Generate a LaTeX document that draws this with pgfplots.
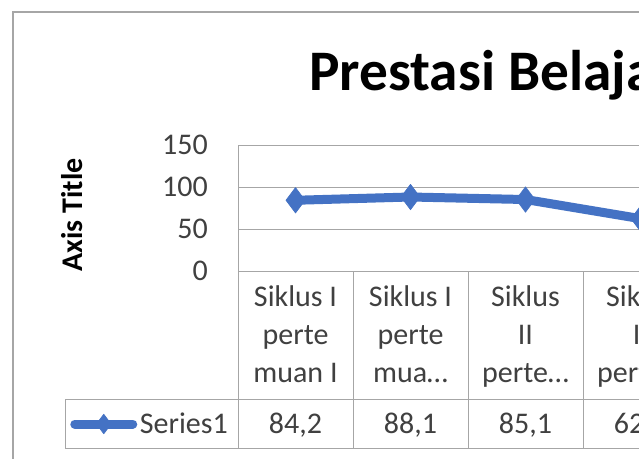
\documentclass[border=0pt]{standalone}
\usepackage{pgfplots}
\usepackage{pgfplotstable}
\pgfplotsset{compat=1.18}
\usepackage{fontspec}
\setmainfont{Carlito}
\definecolor{serblue}{HTML}{4472C4}
\definecolor{gridgray}{HTML}{A6A6A6}
\definecolor{txt}{HTML}{404040}
\pgfplotstableread{
x y
0 84.2
1 88.1
2 85.1
3 62.3
}\data
\begin{document}
\begin{tikzpicture}[x=0.75pt,y=-0.75pt]
\useasboundingbox (0,0) rectangle (639,458);
\clip (0,0) rectangle (639,458);
\fill[white] (0,0) rectangle (639,458);
\draw[gridgray, line width=0.9pt] (700,12) -- (13,12) -- (13,500);
\node[font=\fontsize{43}{50}\selectfont\bfseries, anchor=base west, inner sep=0pt] at (309,90) {Prestasi Belajar Siswa};
\node[font=\fontsize{22.5}{27}\selectfont\bfseries, rotate=90, black] at (72,215) {Axis Title};
\coordinate (O) at (238,271);
\begin{axis}[
  at={(O)}, anchor=south west,
  scale only axis, width=345pt, height=94.5pt,
  xmin=-0.5, xmax=3.5, ymin=0, ymax=150,
  clip=false,
  ytick={0,50,100,150},
  ymajorgrids, grid style={gridgray, line width=0.75pt},
  axis line style={draw=none},
  major tick length=0pt, tick style={draw=none},
  xtick={0,1,2,3},
  xticklabels={{Siklus I\\perte\\muan I},{Siklus I\\perte\\mua…},{Siklus\\II\\perte…},{Siklus\\II\\perte…}},
  xticklabel style={font=\fontsize{22.5}{28.5}\selectfont, text=txt, align=center, anchor=base, inner sep=0pt, yshift=-83.25pt},
  yticklabel style={font=\fontsize{22.5}{27}\selectfont, text=txt, anchor=east, inner sep=0pt, xshift=-22.5pt},
  /pgf/number format/assume math mode=true,
  legend style={at={(axis description cs:-0.3652,-1.2143)}, anchor=west, draw=none, fill=none, inner sep=0pt,
    font=\fontsize{22.5}{27}\selectfont, text=txt},
  legend image code/.code={\draw[#1, mark repeat=2, mark phase=2, every mark/.append style={scale=0.77}] plot coordinates {(0pt,0pt) (21.75pt,0pt) (43.5pt,0pt)};},
]
\addplot[serblue, line width=6.75pt, line cap=round, line join=round, mark=diamond*, mark size=9.5pt,
  mark options={solid, line width=0.5pt, fill=serblue, draw=serblue}] table[x=x, y=y] {\data};
\addlegendentry{Series1}
\addplot[draw=none, forget plot, point meta=explicit,
  nodes near coords={\pgfmathprintnumber[fixed,fixed zerofill,precision=1,use comma,assume math mode=true]{\pgfplotspointmeta}},
  nodes near coords style={anchor=base, inner sep=0pt, font=\fontsize{22.5}{27}\selectfont, text=txt}]
  table[x=x, y expr=-193.45, meta=y] {\data};
\end{axis}
\draw[gridgray, line width=0.75pt]
  (238,145) -- (238,448)
  (238,271) -- (700,271)
  (65,399) -- (700,399)
  (65,448) -- (700,448)
  (65,399) -- (65,448)
  (353,271) -- (353,448)
  (468,271) -- (468,448)
  (583,271) -- (583,448);
\end{tikzpicture}
\end{document}
